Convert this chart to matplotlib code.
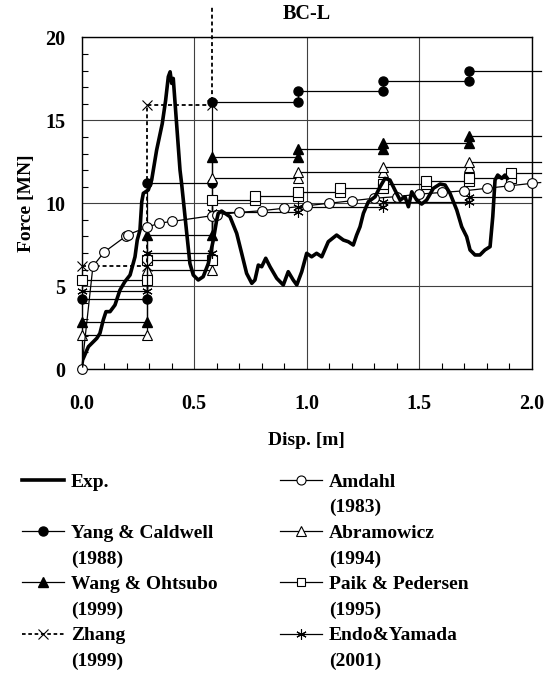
import matplotlib
matplotlib.use("Agg")
import matplotlib.pyplot as plt
from matplotlib.lines import Line2D
from matplotlib.ticker import MultipleLocator

plt.rcParams['font.family'] = ['Liberation Serif', 'DejaVu Serif']
plt.rcParams['font.weight'] = 'bold'

# ---------------- data ----------------
exp_x = [0.0, 0.004, 0.03, 0.067, 0.081, 0.096, 0.108, 0.126, 0.148, 0.17, 0.192, 0.215,
         0.237, 0.247, 0.259, 0.267, 0.274, 0.296, 0.311, 0.333, 0.358, 0.373, 0.385,
         0.393, 0.40, 0.407, 0.437, 0.444, 0.467, 0.481, 0.496, 0.518, 0.54, 0.563,
         0.585, 0.60, 0.607, 0.622, 0.659, 0.689, 0.711, 0.733, 0.756, 0.77, 0.785,
         0.80, 0.818, 0.837, 0.867, 0.896, 0.918, 0.94, 0.956, 0.978, 1.0, 1.022,
         1.044, 1.067, 1.096, 1.133, 1.163, 1.185, 1.207, 1.222, 1.237, 1.252, 1.274,
         1.304, 1.326, 1.348, 1.37, 1.392, 1.415, 1.437, 1.452, 1.467, 1.489, 1.511,
         1.533, 1.563, 1.593, 1.615, 1.637, 1.667, 1.689, 1.711, 1.726, 1.748, 1.77,
         1.792, 1.815, 1.827, 1.837, 1.849, 1.867, 1.881, 1.892]
exp_y = [0.2, 0.54, 1.35, 1.85, 2.15, 2.96, 3.46, 3.46, 3.86, 4.76, 5.27, 5.67,
         6.77, 7.78, 8.38, 10.09, 10.6, 10.8, 11.4, 13.2, 14.8, 16.2, 17.63,
         17.93, 17.23, 17.53, 12.0, 11.2, 8.18, 6.37, 5.67, 5.37, 5.57, 6.37,
         7.78, 8.99, 9.39, 9.53, 9.19, 8.18, 6.98, 5.77, 5.17, 5.37, 6.27,
         6.17, 6.68, 6.17, 5.47, 5.07, 5.87, 5.37, 5.07, 5.87, 6.98, 6.77,
         6.98, 6.77, 7.68, 8.08, 7.78, 7.68, 7.48, 8.08, 8.58, 9.39, 10.09,
         10.39, 10.99, 11.5, 11.4, 10.8, 10.19, 10.39, 9.79, 10.69, 10.19, 9.95,
         10.19, 10.9, 11.16, 11.1, 10.6, 9.59, 8.58, 7.98, 7.18, 6.88, 6.88,
         7.18, 7.38, 9.19, 11.4, 11.7, 11.5, 11.7, 11.5]

amdahl_x = [0.0, 0.05, 0.10, 0.195, 0.205, 0.29, 0.345, 0.40, 0.58, 0.60, 0.70, 0.80,
            0.90, 1.0, 1.1, 1.2, 1.3, 1.4, 1.5, 1.6, 1.7, 1.8, 1.9, 2.0, 2.04]
amdahl_y = [0.0, 6.2, 7.05, 8.0, 8.1, 8.55, 8.8, 8.9, 9.25, 9.3, 9.45, 9.55,
            9.7, 9.85, 10.0, 10.15, 10.3, 10.4, 10.55, 10.65, 10.75, 10.9, 11.05, 11.2, 11.25]

stages = [0.0, 0.29, 0.58, 0.96, 1.34, 1.72]
end_x = 2.04
yang_y = [4.2, 11.25, 16.1, 16.8, 17.4, 18.0]
wang_y = [2.85, 8.1, 12.8, 13.3, 13.65, 14.05]
abram_y = [2.05, 5.95, 11.55, 11.9, 12.2, 12.5]
endo_y = [4.7, 7.0, 9.45, 9.8, 10.1, 10.35]
paik_stages = [0.0, 0.29, 0.58, 0.77, 0.96, 1.15, 1.34, 1.53, 1.72, 1.91]
paik_y = [5.35, 6.55, 10.2, 10.45, 10.7, 10.9, 11.15, 11.35, 11.55, 11.8]
zhang_x = [0.0, 0.29, 0.29, 0.58, 0.58]
zhang_y = [6.2, 6.2, 15.9, 15.9, 21.9]

labels_left = ["Exp.", " ", "Yang & Caldwell", "(1988)", "Wang & Ohtsubo", "(1999)",
               "Zhang", "(1999)"]
labels_right = ["Amdahl", "(1983)", "Abramowicz", "(1994)", "Paik & Pedersen", "(1995)",
                "Endo&Yamada", "(2001)"]


def steps(st, vals, end):
    xs, ys = [st[0]], [vals[0]]
    for i in range(1, len(st)):
        xs += [st[i], st[i]]
        ys += [vals[i - 1], vals[i]]
    xs.append(end)
    ys.append(vals[-1])
    return xs, ys


fig = plt.figure(figsize=(5.46, 6.73), dpi=100)
ax = fig.add_axes([0.1496, 0.4517, 0.8242, 0.4926])

lw = 0.9
ms = 6.5
common = dict(color='black', lw=lw, clip_on=False)

x, y = steps(stages, yang_y, end_x)
ax.plot(x, y, marker='o', ms=ms, mfc='black', mec='black',
        markevery=list(range(len(x) - 1)), zorder=3, **common)
x, y = steps(stages, wang_y, end_x)
ax.plot(x, y, marker='^', ms=ms, mfc='black', mec='black',
        markevery=list(range(len(x) - 1)), zorder=3, **common)
x, y = steps(stages, abram_y, end_x)
ax.plot(x, y, marker='^', ms=ms, mfc='white', mec='black', mew=0.8,
        markevery=list(range(len(x) - 1)), zorder=3, **common)
x, y = steps(paik_stages, paik_y, end_x)
ax.plot(x, y, marker='s', ms=ms, mfc='white', mec='black', mew=0.8,
        markevery=list(range(len(x) - 1)), zorder=3, **common)
x, y = steps(stages, endo_y, end_x)
ax.plot(x, y, marker=(6, 2, 0), ms=ms + 1, mfc='black', mec='black', mew=0.8,
        markevery=list(range(len(x) - 1)), zorder=3, **common)
ax.plot(zhang_x, zhang_y, marker='x', ms=ms, mec='black', mew=0.8,
        color='black', lw=1.3, ls=(0, (2.2, 1.6)), clip_on=False,
        markevery=list(range(len(zhang_x) - 1)), zorder=3)
ax.plot(amdahl_x, amdahl_y, marker='o', ms=7, mfc='white', mec='black', mew=0.8,
        markevery=list(range(len(amdahl_x) - 1)), zorder=4, **common)
ax.plot(exp_x, exp_y, color='black', lw=2.6, zorder=5, solid_joinstyle='round')

ax.set_xlim(0, 2.0)
ax.set_ylim(0, 20)
ax.xaxis.set_major_locator(MultipleLocator(0.5))
ax.xaxis.set_minor_locator(MultipleLocator(0.1))
ax.yaxis.set_major_locator(MultipleLocator(5))
ax.yaxis.set_minor_locator(MultipleLocator(1))
ax.xaxis.set_major_formatter(plt.FuncFormatter(lambda v, p: f"{v:.1f}"))
ax.grid(True, which='major', color='0.25', lw=0.8)
ax.tick_params(which='major', direction='in', length=0, labelsize=14.5)
ax.tick_params(axis='x', which='major', pad=18)
ax.tick_params(axis='y', which='major', pad=12)
ax.tick_params(which='minor', direction='in', length=4, width=0.8)
for s in ax.spines.values():
    s.set_linewidth(1.0)
ax.set_axisbelow(True)

ax.set_xlabel("Disp. [m]", fontsize=14, fontweight='bold', labelpad=13)
ax.set_ylabel("Force [MN]", fontsize=14, fontweight='bold', labelpad=7)
ax.set_title("BC-L", fontsize=14.5, fontweight='bold', pad=13)

lms = 6.5
blank = Line2D([], [], linestyle='none')
left_handles = [Line2D([], [], color='black', lw=2.6), blank,
                Line2D([], [], color='black', lw=lw, marker='o', ms=lms, mfc='black'), blank,
                Line2D([], [], color='black', lw=lw, marker='^', ms=lms, mfc='black'), blank,
                Line2D([], [], color='black', lw=1.3, ls=(0, (2, 1.5)), marker='x', ms=lms,
                       mew=0.8), blank]
right_handles = [Line2D([], [], color='black', lw=lw, marker='o', ms=lms, mfc='white', mew=0.8), blank,
                 Line2D([], [], color='black', lw=lw, marker='^', ms=lms, mfc='white', mew=0.8), blank,
                 Line2D([], [], color='black', lw=lw, marker='s', ms=lms - 0.5, mfc='white', mew=0.8), blank,
                 Line2D([], [], color='black', lw=lw, marker=(6, 2, 0), ms=lms + 1, mew=0.8), blank]

leg_kw = dict(frameon=False, fontsize=14, handlelength=2.15, handletextpad=0.36,
              labelspacing=0.41, borderpad=0, borderaxespad=0, loc='upper left')
fig.legend(left_handles, labels_left, bbox_to_anchor=(0.040, 0.297), **leg_kw)
fig.legend(right_handles, labels_right, bbox_to_anchor=(0.513, 0.297), **leg_kw)

fig.savefig("out.png", dpi=100)
